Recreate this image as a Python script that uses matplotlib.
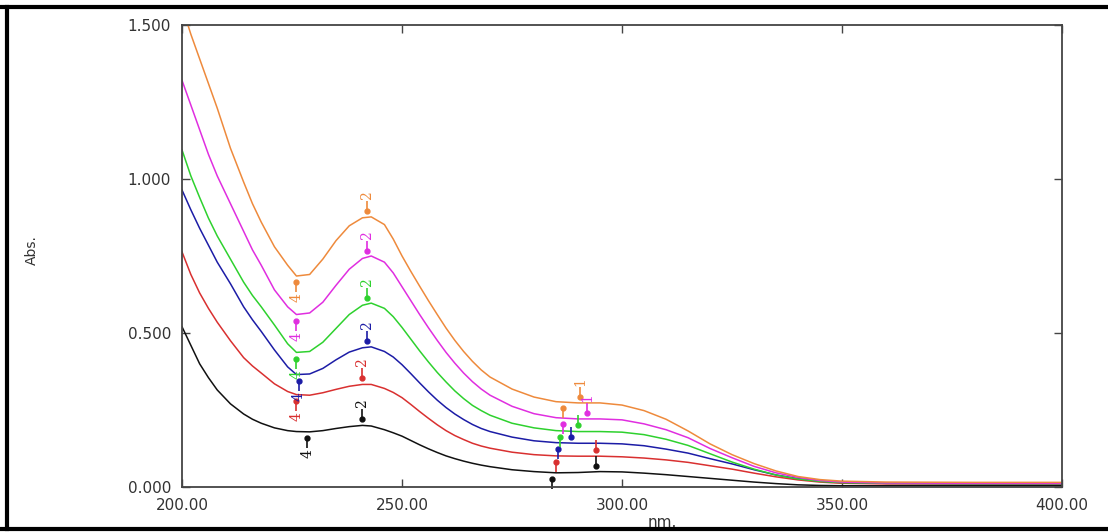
import matplotlib
matplotlib.use("Agg")
import matplotlib.pyplot as plt
import matplotlib.transforms as mtransforms
from matplotlib.lines import Line2D
import numpy as np

# Longitudes de onda comunes a todos los espectros (nm)
wl = [200, 202, 204, 206, 208, 211, 214, 216, 218, 221, 224, 226, 229, 232, 235, 238,
      241, 243, 246, 248, 250, 252, 254, 256, 258, 260, 262, 264, 266, 268, 270, 275, 280,
      285, 290, 295, 300, 305, 310, 315, 320, 325, 330, 335, 340, 345, 350, 360, 380, 400]

abs_orange = [1.56, 1.47, 1.39, 1.31, 1.23, 1.10, 0.99, 0.92, 0.86, 0.78, 0.72, 0.685, 0.69, 0.74, 0.80, 0.848,
              0.874, 0.877, 0.852, 0.805, 0.75, 0.70, 0.652, 0.605, 0.56, 0.516, 0.476, 0.44, 0.408, 0.38, 0.357,
              0.318, 0.292, 0.277, 0.273, 0.273, 0.266, 0.248, 0.22, 0.182, 0.14, 0.105, 0.076, 0.052, 0.034,
              0.024, 0.019, 0.016, 0.015, 0.015]
abs_magenta = [1.32, 1.24, 1.16, 1.08, 1.01, 0.92, 0.83, 0.77, 0.72, 0.64, 0.585, 0.56, 0.565, 0.60, 0.655, 0.707,
               0.742, 0.75, 0.73, 0.695, 0.65, 0.605, 0.56, 0.517, 0.476, 0.437, 0.402, 0.37, 0.342, 0.318, 0.298,
               0.262, 0.238, 0.225, 0.221, 0.221, 0.218, 0.205, 0.186, 0.16, 0.125, 0.095, 0.067, 0.046, 0.031,
               0.021, 0.016, 0.013, 0.012, 0.012]
abs_green = [1.094, 1.01, 0.94, 0.873, 0.815, 0.74, 0.665, 0.622, 0.585, 0.526, 0.465, 0.437, 0.44, 0.47, 0.515, 0.56,
             0.59, 0.597, 0.58, 0.553, 0.518, 0.48, 0.442, 0.406, 0.372, 0.341, 0.312, 0.287, 0.265, 0.248, 0.233,
             0.207, 0.192, 0.183, 0.18, 0.18, 0.178, 0.17, 0.155, 0.135, 0.108, 0.081, 0.058, 0.039, 0.026,
             0.018, 0.014, 0.012, 0.011, 0.011]
abs_blue = [0.964, 0.90, 0.84, 0.785, 0.73, 0.66, 0.585, 0.543, 0.505, 0.445, 0.39, 0.365, 0.367, 0.385, 0.413, 0.438,
            0.452, 0.455, 0.44, 0.422, 0.397, 0.368, 0.338, 0.309, 0.282, 0.258, 0.237, 0.219, 0.203, 0.19, 0.18,
            0.162, 0.15, 0.144, 0.142, 0.142, 0.14, 0.134, 0.123, 0.11, 0.092, 0.075, 0.056, 0.039, 0.027,
            0.019, 0.015, 0.012, 0.011, 0.011]
abs_red = [0.763, 0.69, 0.63, 0.58, 0.535, 0.475, 0.42, 0.393, 0.37, 0.335, 0.31, 0.30, 0.298, 0.306, 0.317, 0.327,
           0.333, 0.333, 0.32, 0.307, 0.29, 0.268, 0.245, 0.223, 0.202, 0.183, 0.167, 0.154, 0.142, 0.133, 0.126,
           0.113, 0.105, 0.101, 0.10, 0.10, 0.098, 0.094, 0.088, 0.08, 0.069, 0.058, 0.045, 0.033, 0.023,
           0.016, 0.012, 0.010, 0.010, 0.010]
abs_black = [0.52, 0.46, 0.40, 0.355, 0.315, 0.27, 0.237, 0.22, 0.207, 0.192, 0.183, 0.18, 0.179, 0.183, 0.19, 0.196,
             0.20, 0.198, 0.186, 0.176, 0.165, 0.151, 0.137, 0.124, 0.112, 0.101, 0.092, 0.084, 0.077, 0.071, 0.066,
             0.056, 0.05, 0.046, 0.047, 0.05, 0.049, 0.045, 0.04, 0.034, 0.028, 0.022, 0.016, 0.011, 0.007,
             0.005, 0.004, 0.004, 0.004, 0.004]

spectra = [abs_black, abs_red, abs_blue, abs_green, abs_magenta, abs_orange]
colors = ["#111111", "#d93030", "#1c1ca6", "#2ed12e", "#e02ee0", "#ee8a3c"]

# Picos (etiqueta "2") y valles (etiqueta "4") marcados en cada espectro
peak_nm = [241, 241, 242, 242, 242, 242]
valley_nm = [228.5, 226, 226.5, 226, 226, 226]
# Hombros alrededor de 285-295 nm
shoulder1_nm = [284, 285, 285.5, 286, 286.5, 286.5]
shoulder2_nm = [294, 294, 288.5, 290, 292, 290.5]

fig = plt.figure(figsize=(11.08, 5.32), dpi=100)
ax = fig.add_axes([0.1643, 0.0846, 0.7942, 0.8684])

for y, c in zip(spectra, colors):
    ax.plot(wl, y, color=c, lw=1.1, solid_joinstyle="round")


def shifted(dy):
    return mtransforms.offset_copy(ax.transData, fig=fig, x=0, y=dy, units="points")


def mark(x, y, c, label, sign):
    # punto + trazo vertical + etiqueta girada
    ax.plot([x], [y], marker="o", ms=3.5, color=c, transform=shifted(4.5 * sign), clip_on=False)
    ax.plot([x], [y], marker="|", ms=7, mew=1.2, color=c, transform=shifted(8 * sign), clip_on=False)
    if label:
        ax.annotate(label, xy=(x, y), xytext=(0, 12.5 * sign), textcoords="offset points",
                    rotation=90, color=c, fontsize=10, ha="center",
                    va="bottom" if sign > 0 else "top", family="DejaVu Serif")


for i, c in enumerate(colors):
    mark(peak_nm[i], np.interp(peak_nm[i], wl, spectra[i]), c, "2", 1)
    mark(valley_nm[i], np.interp(valley_nm[i], wl, spectra[i]), c, "4", -1)
    mark(shoulder1_nm[i], np.interp(shoulder1_nm[i], wl, spectra[i]), c, "", -1)
    mark(shoulder2_nm[i], np.interp(shoulder2_nm[i], wl, spectra[i]), c, "1" if i >= 4 else "", 1)

ax.set_xlim(200, 400)
ax.set_ylim(0, 1.5)
ax.set_xticks([200, 250, 300, 350, 400])
ax.set_xticklabels(["200.00", "250.00", "300.00", "350.00", "400.00"])
ax.set_yticks([0, 0.5, 1.0, 1.5])
ax.set_yticklabels(["0.000", "0.500", "1.000", "1.500"])
ax.tick_params(direction="in", length=6, width=1, color="#444444",
               top=True, right=True, labelsize=11, labelcolor="#333333", pad=8)
for s in ax.spines.values():
    s.set_color("#444444")
    s.set_linewidth(1.3)

ax.set_xlabel("nm.", fontsize=11, color="#333333", labelpad=0)
ax.set_ylabel("Abs.", fontsize=10, color="#333333", labelpad=0)
ax.yaxis.set_label_coords(-0.163, 0.513)
ax.xaxis.set_label_coords(0.546, -0.06)

# Marco negro de la figura
for xs, ys in [([0, 1], [0.986, 0.986]), ([0, 1], [0.006, 0.006]), ([0.006, 0.006], [0.006, 0.986])]:
    fig.add_artist(Line2D(xs, ys, color="black", lw=3, transform=fig.transFigure))

fig.savefig("out.png", dpi=100)
